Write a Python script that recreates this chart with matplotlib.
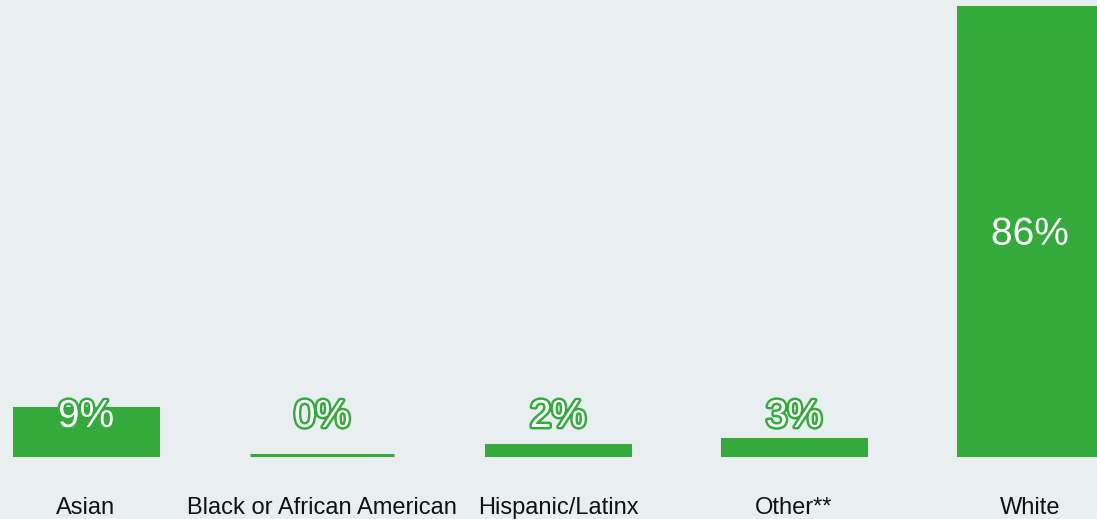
import matplotlib.pyplot as plt
import matplotlib.patheffects as pe
import numpy as np

# dane
groups = ["Asian", "Black or African American", "Hispanic/Latinx", "Other**", "White"]
shares = [9, 0, 2, 3, 86]

green = '#34aa3c'
bg = '#e9eef0'

plt.rcParams['font.family'] = ['Liberation Sans', 'DejaVu Sans']

fig = plt.figure(figsize=(10.97, 5.19), dpi=100, facecolor=bg)
ax = fig.add_axes([0, 64 / 519, 1, 455 / 519])
ax.set_facecolor(bg)

x = np.arange(len(groups))
bars = ax.bar(x, shares, width=0.614, color=green, edgecolor=green, linewidth=2.2)
for b in bars:
    b.set_clip_on(False)

for xi, v in zip(x, shares):
    ax.text(xi, max(v / 2, 8) - 0.7, f"{v}%", ha='center', va='center', fontsize=28,
            color='white',
            path_effects=[pe.withStroke(linewidth=3.5, foreground=green)])

ax.set_xlim(-86 / 236, (1097 - 86) / 236)
ax.set_ylim(0, 86 * 455 / 448)
ax.set_xticks(x)
ax.set_xticklabels(groups, fontsize=17, color='#111111')
ax.tick_params(axis='x', length=0, pad=30)
ax.set_yticks([])
for s in ax.spines.values():
    s.set_visible(False)

fig.savefig('out.png', dpi=100, facecolor=bg)
